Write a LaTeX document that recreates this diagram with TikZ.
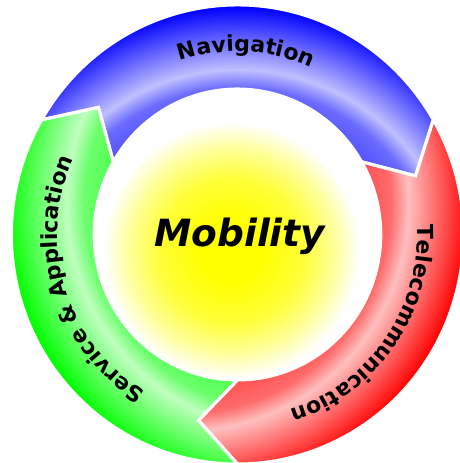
\documentclass[tikz,border=0pt]{standalone}
\usepackage{fontspec}
\setmainfont{DejaVu Sans}
\usetikzlibrary{decorations.text}
\def\kx{0.985}
\def\Ro{229.5}
\def\Ri{145.5}
\def\Rm{190}
\def\Rt{183}
\pgfdeclareradialshading{sun}{\pgfpoint{0bp}{0bp}}{color(0bp)=(yellow); color(6bp)=(yellow); color(14bp)=(yellow!78!white); color(20bp)=(yellow!40!white); color(25bp)=(white); color(50bp)=(white)}
\pgfdeclareradialshading{blueband}{\pgfpoint{0bp}{0bp}}{color(0bp)=(blue!70!white); color(15bp)=(blue!70!white); color(17.5bp)=(blue!58!white); color(19bp)=(blue!25!white); color(21.6bp)=(blue!62!white); color(24.25bp)=(blue); color(50bp)=(blue)}
\pgfdeclareradialshading{redband}{\pgfpoint{0bp}{0bp}}{color(0bp)=(red!70!white); color(15bp)=(red!70!white); color(17.5bp)=(red!58!white); color(19bp)=(red!25!white); color(21.6bp)=(red!62!white); color(24.25bp)=(red); color(50bp)=(red)}
\pgfdeclareradialshading{greenband}{\pgfpoint{0bp}{0bp}}{color(0bp)=(green!70!white); color(15bp)=(green!70!white); color(17.5bp)=(green!58!white); color(19bp)=(green!25!white); color(21.6bp)=(green!62!white); color(24.25bp)=(green); color(50bp)=(green)}
\tikzset{
  arrowshape/.style={insert path={
    ({\kx*\Ro*cos(#1)},{\Ro*sin(#1)})
    arc[start angle=#1, end angle=#1-120, x radius=\kx*\Ro pt, y radius=\Ro pt]
    -- ({\kx*\Rm*cos(#1-132)},{\Rm*sin(#1-132)})
    -- ({\kx*\Ri*cos(#1-120)},{\Ri*sin(#1-120)})
    arc[start angle=#1-120, end angle=#1, x radius=\kx*\Ri pt, y radius=\Ri pt]
    -- ({\kx*\Rm*cos(#1-12)},{\Rm*sin(#1-12)}) -- cycle}},
  separator/.style={draw=white, line width=3pt, line join=miter},
  centrelabel/.style={font=\bfseries\itshape\fontsize{37.5}{40}\selectfont, text=black, anchor=base, inner sep=0pt}
}
\newcommand{\bandlabel}[2]{%
  \path[decorate, decoration={text along path, text align=center,
    text={|\bfseries\fontsize{22}{26}\selectfont|#2}}]
    ({\kx*\Rt*cos(#1+70)},{\Rt*sin(#1+70)})
    arc[start angle=#1+70, end angle=#1-70, x radius=\kx*\Rt pt, y radius=\Rt pt];}
\begin{document}
\begin{tikzpicture}[x=1pt, y=1pt]
\useasboundingbox (-237.5,-228.5) rectangle (221.5,234.5);
\fill[white] (-237.5,-228.5) rectangle (221.5,234.5);
% centre disc
\shade[shading=sun] (-6,-16) circle[radius=128pt];
% bands
\begin{scope}
  \clip[arrowshape=150];
  \shade[shading=blueband] (0,-63) ellipse[x radius=\kx*300pt, y radius=300pt];
\end{scope}
\begin{scope}
  \clip[arrowshape=30];
  \shade[shading=redband] ({-\kx*54.56},31.5) ellipse[x radius=\kx*300pt, y radius=300pt];
\end{scope}
\begin{scope}
  \clip[arrowshape=-90];
  \shade[shading=greenband] ({\kx*54.56},31.5) ellipse[x radius=\kx*300pt, y radius=300pt];
\end{scope}
\path[separator, arrowshape=150];
\path[separator, arrowshape=30];
\path[separator, arrowshape=-90];
% labels
\bandlabel{87.25}{Navigation}
\bandlabel{-35.25}{Telecommunication}
\bandlabel{197.5}{Service {\&} Application}
\node[centrelabel] (mobility) at (2.2,-12.2) {Mobility};
\end{tikzpicture}
\end{document}
